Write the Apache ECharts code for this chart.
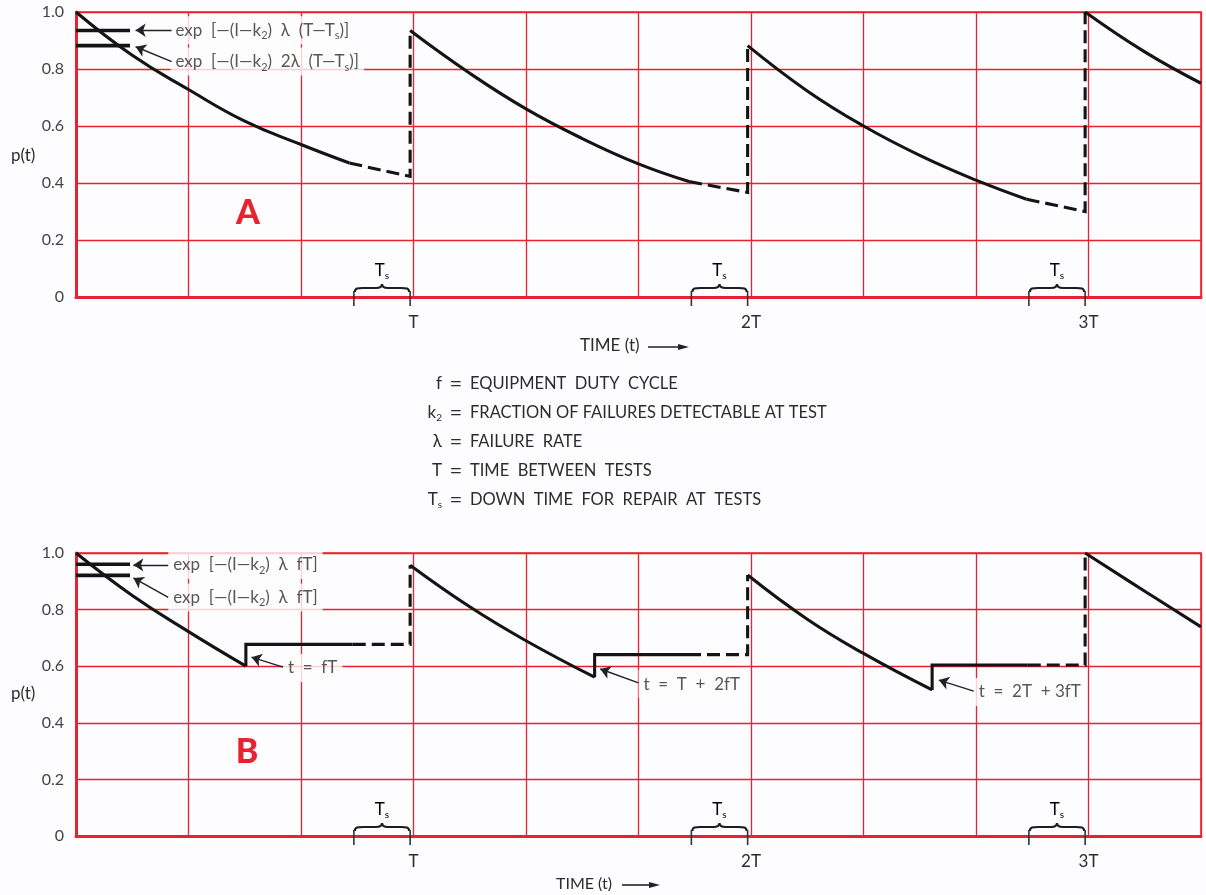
<!DOCTYPE html>
<html>
<head>
<meta charset="utf-8">
<script src="https://cdn.jsdelivr.net/npm/echarts@6/dist/echarts.min.js"></script>
<style>
  html, body { margin: 0; padding: 0; background: #fdfcfe; }
  #chart { width: 1206px; height: 895px; }
</style>
</head>
<body>
<div id="chart"></div>
<script>
// Time axis runs in units where the test interval T = 3, so T, 2T, 3T sit at 3, 6, 9.
const xTickValues = [3, 6, 9];
const xTickLabels = ['T', '2T', '3T'];
const yTickValues = [0, 0.2, 0.4, 0.6, 0.8, 1.0];
const yTickLabels = ['0', '0.2', '0.4', '0.6', '0.8', '1.0'];

// Repair windows Ts before each test (start, end)
const tsStart = [2.47, 5.47, 8.47];
const tsEnd = [2.97, 5.97, 8.97];

// Case A: continuous operation — solid = operating, dashed = during Ts and repair jump
const aSolid1 = [[0, 1.0], [0.5, 0.848], [1, 0.728], [1.5, 0.617], [2, 0.535], [2.43, 0.47]];
const aDash1 = [[2.43, 0.47], [2.97, 0.423], [2.97, 0.935]];
const aSolid2 = [[2.97, 0.935], [3.5, 0.785], [4, 0.66], [4.5, 0.556], [5, 0.467], [5.45, 0.405]];
const aDash2 = [[5.45, 0.405], [5.97, 0.367], [5.97, 0.882]];
const aSolid3 = [[5.97, 0.882], [6.5, 0.723], [7, 0.60], [7.5, 0.497], [8, 0.41], [8.45, 0.343]];
const aDash3 = [[8.45, 0.343], [8.97, 0.30], [8.97, 1.0]];
const aSolid4 = [[8.97, 1.0], [9.5, 0.86], [10, 0.75]];
const aLevels = [0.935, 0.882];

// Case B: duty-cycled operation — decay while on, flat while off
const bCurve1 = [[0, 1.0], [0.5, 0.85], [1, 0.722], [1.51, 0.60]];
const bStep1 = [[1.51, 0.60], [1.51, 0.677], [2.46, 0.677]];
const bDash1 = [[2.46, 0.677], [2.97, 0.677], [2.97, 0.957]];
const bCurve2 = [[2.97, 0.957], [3.5, 0.81], [4, 0.69], [4.61, 0.561]];
const bStep2 = [[4.61, 0.561], [4.61, 0.641], [5.44, 0.641]];
const bDash2 = [[5.44, 0.641], [5.97, 0.641], [5.97, 0.922]];
const bCurve3 = [[5.97, 0.922], [6.5, 0.766], [7, 0.645], [7.61, 0.516]];
const bStep3 = [[7.61, 0.516], [7.61, 0.604], [8.46, 0.604]];
const bDash3 = [[8.46, 0.604], [8.97, 0.604], [8.97, 1.0]];
const bCurve4 = [[8.97, 1.0], [9.5, 0.865], [10, 0.739]];
const bLevels = [0.96, 0.921];

// Definitions block
const defSymbols = ['f', '{v|k}{sub|2}', 'λ', 'T', '{v|T}{sub|s}'];
const defMeanings = ['EQUIPMENT  DUTY  CYCLE', 'FRACTION OF FAILURES DETECTABLE AT TEST',
  'FAILURE  RATE', 'TIME  BETWEEN  TESTS', 'DOWN  TIME  FOR  REPAIR  AT  TESTS'];

const RED = '#e8232f';
const INK = '#141414';
const TEXT = '#2c2c2c';
const BG = '#fdfcfe';
const FONT = 'Lato, "DejaVu Sans", sans-serif';

const chart = echarts.init(document.getElementById('chart'), null, { renderer: 'canvas' });

const richBase = {
  t: { fontSize: 17, fontFamily: FONT, color: TEXT, lineHeight: 22 },
  s: { fontSize: 11, fontFamily: FONT, color: TEXT, lineHeight: 13, verticalAlign: 'bottom' }
};

function xAxisFor(gi) {
  return {
    type: 'value', gridIndex: gi, min: 0, max: 10, interval: 1,
    axisLine: { show: true, onZero: false, lineStyle: { color: RED, width: 3 } },
    axisTick: { show: false },
    splitLine: { show: true, lineStyle: { color: RED, width: 1.3 } },
    axisLabel: {
      margin: 17, fontSize: 17, color: TEXT, fontFamily: FONT,
      formatter: v => { const i = xTickValues.indexOf(v); return i >= 0 ? xTickLabels[i] : ''; }
    }
  };
}
function yAxisFor(gi) {
  return {
    type: 'value', gridIndex: gi, min: 0, max: 1, interval: 0.2,
    axisLine: { show: true, lineStyle: { color: RED, width: 3 } },
    axisTick: { show: false },
    splitLine: { show: true, lineStyle: { color: RED, width: 1.3 } },
    axisLabel: {
      margin: 12, fontSize: 16, color: '#444', fontFamily: FONT,
      formatter: v => {
        const i = yTickValues.findIndex(t => Math.abs(t - v) < 1e-6);
        return i >= 0 ? yTickLabels[i] : '';
      }
    }
  };
}

function seg(data, gi, kind) {
  const dashed = kind === 'dash';
  return {
    type: 'line', xAxisIndex: gi, yAxisIndex: gi, data, symbol: 'none', silent: true,
    z: 5, smooth: kind === 'curve' ? 0.45 : false,
    lineStyle: { color: INK, width: 3.1, type: dashed ? [13, 6] : 'solid', cap: 'butt', join: 'miter' }
  };
}
function levelLine(v, gi) {
  return {
    type: 'line', xAxisIndex: gi, yAxisIndex: gi, data: [[0, v], [0.48, v]],
    symbol: 'none', silent: true, z: 5, lineStyle: { color: INK, width: 3.6 }
  };
}
function braces(gi) {
  return {
    type: 'custom', xAxisIndex: gi, yAxisIndex: gi, silent: true, z: 6,
    data: tsStart.map((s, i) => [s, tsEnd[i]]),
    renderItem: (params, api) => {
      const p0 = api.coord([api.value(0), 0]);
      const p1 = api.coord([api.value(1), 0]);
      const y = p0[1], x0 = p0[0], x1 = p1[0], xm = (x0 + x1) / 2;
      const yb = y - 9;
      const d = `M${x0 + 1},${yb + 4} C${x0 + 1},${yb} ${x0 + 4},${yb} ${x0 + 9},${yb} ` +
        `L${xm - 6},${yb} C${xm - 2},${yb} ${xm},${yb - 1} ${xm},${yb - 4} ` +
        `C${xm},${yb - 1} ${xm + 2},${yb} ${xm + 6},${yb} L${x1 - 9},${yb} ` +
        `C${x1 - 4},${yb} ${x1 - 1},${yb} ${x1 - 1},${yb + 4}`;
      return {
        type: 'group', children: [
          { type: 'path', shape: { pathData: d }, style: { fill: null, stroke: '#1e1e1e', lineWidth: 2.2 } },
          { type: 'line', shape: { x1: x0, y1: y - 6, x2: x0, y2: y + 9 }, style: { stroke: '#333', lineWidth: 1.6 } },
          { type: 'line', shape: { x1: x1, y1: y - 6, x2: x1, y2: y + 9 }, style: { stroke: '#333', lineWidth: 1.6 } },
          {
            type: 'text', x: xm, y: yb - 17,
            style: {
              text: '{v|T}{sub|s}', align: 'center', verticalAlign: 'middle',
              rich: {
                v: { fontSize: 17, fontFamily: FONT, color: TEXT, lineHeight: 20 },
                sub: { fontSize: 10, fontFamily: FONT, color: TEXT, lineHeight: 11, verticalAlign: 'bottom' }
              }
            }
          }
        ]
      };
    }
  };
}
function notes(gi, items) {
  return {
    type: 'scatter', xAxisIndex: gi, yAxisIndex: gi, symbolSize: 0, silent: true, z: 8,
    data: items.map(it => ({
      value: it.at,
      label: {
        show: true, position: 'right', distance: 0, formatter: it.text,
        backgroundColor: BG, padding: [3, 5], rich: richBase
      }
    }))
  };
}
function arrows(gi, list) {
  return {
    type: 'lines', coordinateSystem: 'cartesian2d', xAxisIndex: gi, yAxisIndex: gi,
    silent: true, z: 9, symbol: ['none', 'arrow'], symbolSize: [0, 10],
    lineStyle: { color: '#222', width: 1.4, opacity: 1, curveness: 0 },
    data: list.map(c => ({ coords: c }))
  };
}

const expA1 = '{t|exp  [—(I—k}{s|2}{t|)  λ  (T—T}{s|s}{t|)]}';
const expA2 = '{t|exp  [—(I—k}{s|2}{t|)  2λ  (T—T}{s|s}{t|)]}';
const expB = '{t|exp  [—(I—k}{s|2}{t|)  λ  fT]}';

const series = [
  seg(aSolid1, 0, 'curve'), seg(aDash1, 0, 'dash'), seg(aSolid2, 0, 'curve'), seg(aDash2, 0, 'dash'),
  seg(aSolid3, 0, 'curve'), seg(aDash3, 0, 'dash'), seg(aSolid4, 0, 'curve'),
  levelLine(aLevels[0], 0), levelLine(aLevels[1], 0),
  seg(bCurve1, 1, 'curve'), seg(bStep1, 1, 'step'), seg(bDash1, 1, 'dash'),
  seg(bCurve2, 1, 'curve'), seg(bStep2, 1, 'step'), seg(bDash2, 1, 'dash'),
  seg(bCurve3, 1, 'curve'), seg(bStep3, 1, 'step'), seg(bDash3, 1, 'dash'),
  seg(bCurve4, 1, 'curve'),
  levelLine(bLevels[0], 1), levelLine(bLevels[1], 1),
  braces(0), braces(1),
  notes(0, [
    { at: [0.84, 0.936], text: expA1 },
    { at: [0.84, 0.826], text: expA2 }
  ]),
  arrows(0, [
    [[0.85, 0.936], [0.53, 0.936]],
    [[0.85, 0.826], [0.53, 0.878]]
  ]),
  notes(1, [
    { at: [0.82, 0.958], text: expB },
    { at: [0.82, 0.843], text: expB },
    { at: [1.84, 0.594], text: '{t|t  =  fT}' },
    { at: [5.0, 0.537], text: '{t|t  =  T  +  2fT}' },
    { at: [7.98, 0.509], text: '{t|t  =  2T  + 3fT}' }
  ]),
  arrows(1, [
    [[0.82, 0.958], [0.51, 0.958]],
    [[0.82, 0.843], [0.51, 0.912]],
    [[1.84, 0.597], [1.56, 0.632]],
    [[5.0, 0.541], [4.66, 0.59]],
    [[7.98, 0.512], [7.67, 0.551]]
  ])
];

const graphic = [
  { type: 'text', left: 11, top: 147, style: { text: 'p(t)', fontSize: 17, fontFamily: FONT, fill: TEXT } },
  { type: 'text', left: 11, top: 685, style: { text: 'p(t)', fontSize: 17, fontFamily: FONT, fill: TEXT } },
  { type: 'text', x: 248, y: 213, style: { text: 'A', fontSize: 34, fontWeight: 900, fontFamily: FONT, fill: RED, align: 'center', verticalAlign: 'middle' } },
  { type: 'text', x: 247, y: 752, style: { text: 'B', fontSize: 34, fontWeight: 900, fontFamily: FONT, fill: RED, align: 'center', verticalAlign: 'middle' } }
];

// "TIME (t) ⟶" axis titles with a drawn arrow
function timeTitle(xText, y, size, arrowFrom, arrowTo) {
  graphic.push({ type: 'text', x: xText, y: y, style: { text: 'TIME (t)', fontSize: size, fontFamily: FONT, fill: TEXT, verticalAlign: 'middle' } });
  graphic.push({ type: 'line', shape: { x1: arrowFrom, y1: y + 1, x2: arrowTo - 8, y2: y + 1 }, style: { stroke: '#222', lineWidth: 1.6 } });
  graphic.push({ type: 'polygon', shape: { points: [[arrowTo, y + 1], [arrowTo - 11, y - 2], [arrowTo - 11, y + 4]] }, style: { fill: '#222' } });
}
timeTitle(580, 346, 17, 648, 689);
timeTitle(556, 884, 16, 622, 660);

// Definitions block, aligned on the equals signs
defSymbols.forEach((sym, i) => {
  const y = 384 + 29 * i;
  graphic.push({
    type: 'text', x: 442, y: y,
    style: {
      text: sym, align: 'right', verticalAlign: 'middle',
      fontSize: 17, fontFamily: FONT, fill: TEXT,
      rich: {
        v: { fontSize: 17, fontFamily: FONT, color: TEXT, lineHeight: 20 },
        sub: { fontSize: 10, fontFamily: FONT, color: TEXT, lineHeight: 12, verticalAlign: 'bottom' }
      }
    }
  });
  graphic.push({ type: 'text', x: 456, y: y, style: { text: '=', align: 'center', verticalAlign: 'middle', fontSize: 22, fontFamily: FONT, fill: TEXT } });
  graphic.push({ type: 'text', x: 470, y: y, style: { text: defMeanings[i], align: 'left', verticalAlign: 'middle', fontSize: 16.5, fontFamily: FONT, fill: TEXT } });
});

chart.setOption({
  animation: false,
  backgroundColor: BG,
  grid: [
    { left: 76, top: 12, width: 1125, height: 285, show: true, borderColor: RED, borderWidth: 1.6, backgroundColor: 'transparent' },
    { left: 76, top: 553, width: 1125, height: 283, show: true, borderColor: RED, borderWidth: 1.6, backgroundColor: 'transparent' }
  ],
  xAxis: [xAxisFor(0), xAxisFor(1)],
  yAxis: [yAxisFor(0), yAxisFor(1)],
  series,
  graphic
});
</script>
</body>
</html>
